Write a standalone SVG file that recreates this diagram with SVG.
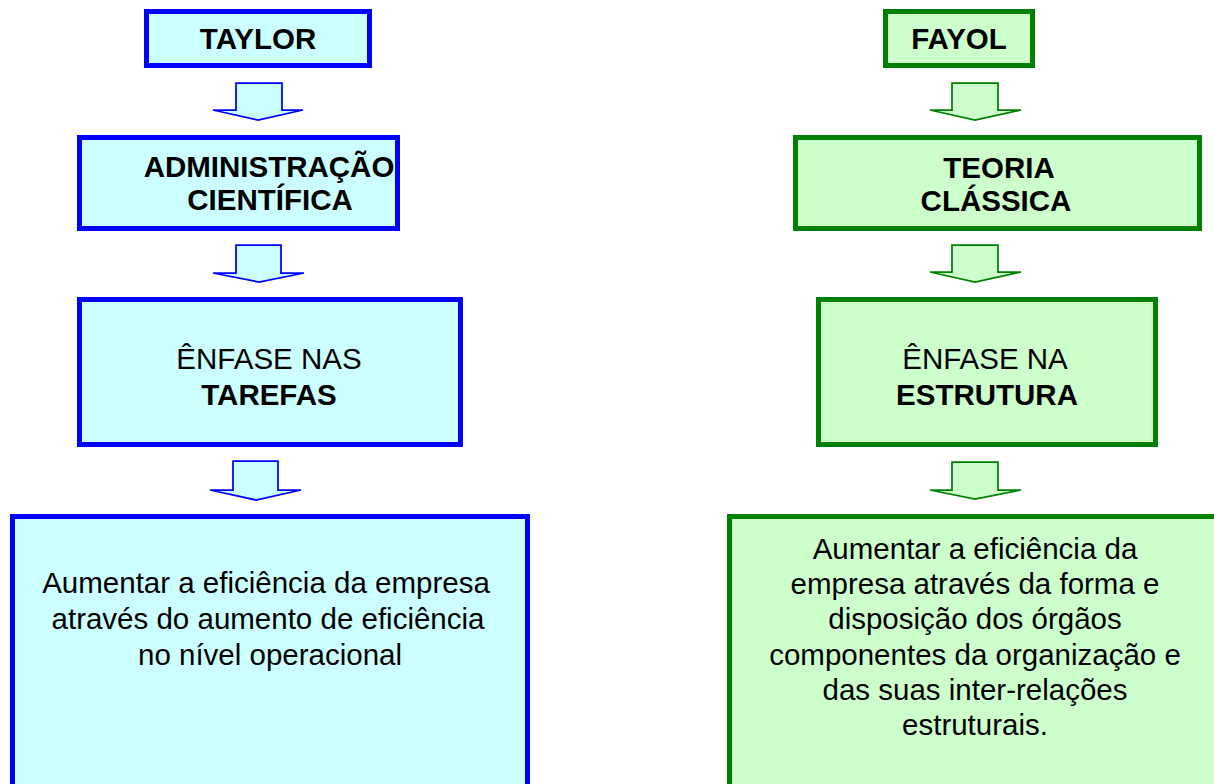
<svg xmlns="http://www.w3.org/2000/svg" width="1214" height="784" viewBox="0 0 1214 784">
<style>
.b{fill:#CCFFFF;stroke:#0000FF;stroke-width:5}
.g{fill:#CCFFCC;stroke:#008000;stroke-width:5}
.ab{fill:#CCFFFF;stroke:#0000FF;stroke-width:1.75;stroke-linejoin:miter}
.ag{fill:#CCFFCC;stroke:#008000;stroke-width:1.75;stroke-linejoin:miter}
text{font-family:"Liberation Sans",Arial,sans-serif;font-size:29.5px;fill:#000;text-anchor:middle}
.bd{font-weight:bold}
</style>
<rect width="1214" height="784" fill="#FFFFFF"/>
<g id="taylor"><rect class="b" x="146.5" y="11.5" width="223" height="54"/><text class="bd" x="258" y="49">TAYLOR</text></g>
<g id="adm"><rect class="b" x="79.5" y="137.5" width="318" height="91"/><text class="bd" x="269" y="177">ADMINISTRAÇÃO</text><text class="bd" x="270" y="210">CIENTÍFICA</text></g>
<g id="tarefas"><rect class="b" x="79.5" y="299.5" width="381" height="145"/><text x="269" y="369">ÊNFASE NAS</text><text class="bd" x="269" y="405">TAREFAS</text></g>
<g id="efic-left"><rect class="b" x="12.5" y="516.5" width="515" height="300"/><text x="266" y="593">Aumentar a eficiência da empresa</text><text x="268" y="629">através do aumento de eficiência</text><text x="270" y="665">no nível operacional</text></g>
<g id="fayol"><rect class="g" x="885.5" y="11.5" width="147" height="54"/><text class="bd" x="959" y="49">FAYOL</text></g>
<g id="teoria"><rect class="g" x="795.5" y="137.5" width="404" height="91"/><text class="bd" x="999" y="178">TEORIA</text><text class="bd" x="996" y="211">CLÁSSICA</text></g>
<g id="estrutura"><rect class="g" x="818.5" y="299.5" width="337" height="145"/><text x="985" y="369">ÊNFASE NA</text><text class="bd" x="987" y="405">ESTRUTURA</text></g>
<g id="efic-right"><rect class="g" x="729.5" y="516.5" width="600" height="300"/>
<text x="975" y="559">Aumentar a eficiência da</text>
<text x="975" y="594">empresa através da forma e</text>
<text x="975" y="629">disposição dos órgãos</text>
<text x="975" y="665">componentes da organização e</text>
<text x="975" y="700">das suas inter-relações</text>
<text x="975" y="735">estruturais.</text></g>
<g id="connectors">
<polygon class="ab" points="236,83 282,83 282,110 303,110 258,120 213,110 236,110"/>
<polygon class="ab" points="236,245 281,245 281,273 304,273 259,282 213,273 236,273"/>
<polygon class="ab" points="233,461 278,461 278,490 301,490 256,500 210,490 233,490"/>
<polygon class="ag" points="952,83 998,83 998,110 1021,110 975,120 930,110 952,110"/>
<polygon class="ag" points="952,245 998,245 998,272 1021,272 975,282 930,272 952,272"/>
<polygon class="ag" points="952,462 998,462 998,490 1021,490 975,499 930,490 952,490"/>
</g>
</svg>
